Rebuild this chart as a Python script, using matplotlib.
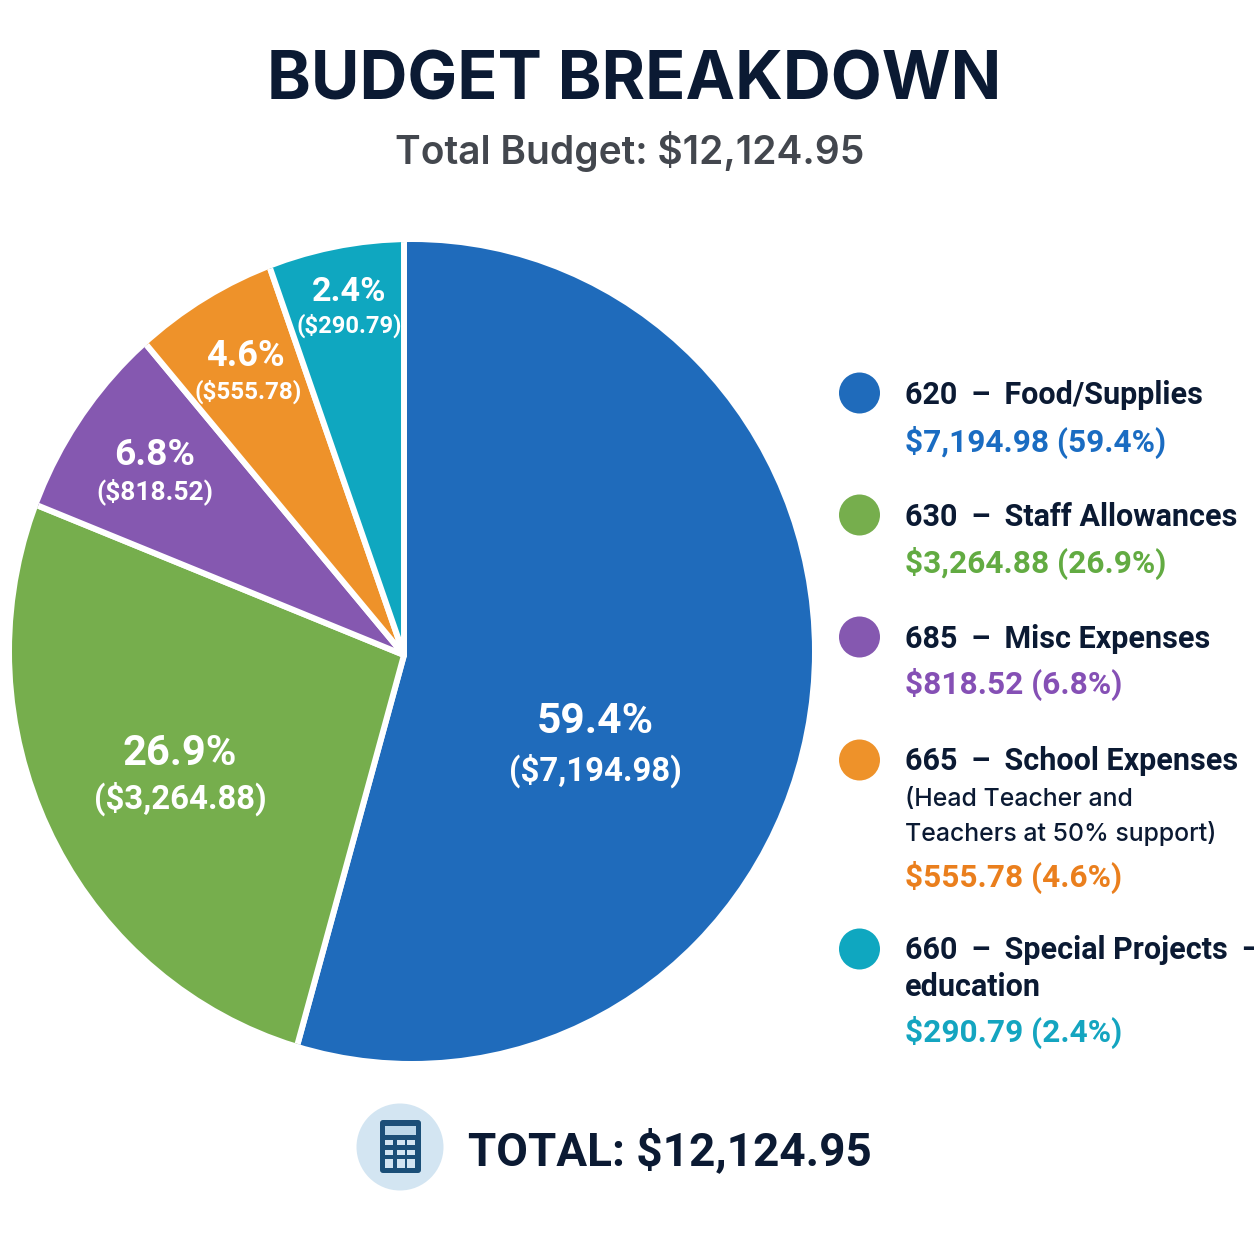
import matplotlib
matplotlib.use("Agg")
import matplotlib.pyplot as plt
from matplotlib.patches import Circle, Ellipse, FancyBboxPatch, Rectangle

# ---- data ----
categories = ["620 \u2009– \u2009Food/Supplies", "630 \u2009– \u2009Staff Allowances",
              "685 \u2009– \u2009Misc Expenses", "665 \u2009– \u2009School Expenses",
              "660 \u2009– \u2009Special Projects \u2009–"]
sublabels = [[], [], [], ["(Head Teacher and", "Teachers at 50% support)"], ["education"]]
amounts = [7194.98, 3264.88, 818.52, 555.78, 290.79]
percents = [59.4, 26.9, 6.8, 4.6, 2.4]
# the slices as actually drawn in the picture (degrees), which differ from the labelled shares
drawn_degrees = [195.3, 96.9, 28.1, 20.6, 19.1]
total = 12124.95

colors = ["#1f6bbb", "#76ae4d", "#8558b0", "#ee922a", "#0fa7c0"]
text_colors = ["#1a6cc2", "#62ab42", "#8550b5", "#ea7f1d", "#14a5c0"]
DARK = "#0b1a33"

W = 1254
plt.rcParams["font.family"] = ["Roboto", "DejaVu Sans"]
fig = plt.figure(figsize=(W / 100, W / 100), dpi=100, facecolor="white")
ax = fig.add_axes([0, 0, 1, 1])


def T(x, y, s, size, color=DARK, weight="bold", ha="left", family=None):
    kw = {"family": family} if family else {}
    return ax.text(x, W - y, s, fontsize=size, color=color, fontweight=weight,
                   ha=ha, va="baseline", **kw)


# ---- pie ----
apex = (404, W - 655)
wedges, _ = ax.pie(drawn_degrees, colors=colors, startangle=90, counterclock=False,
                   center=apex, radius=470,
                   wedgeprops=dict(edgecolor="white", linewidth=4.3, joinstyle="round"))
ax.set_xlim(0, W)
ax.set_ylim(0, W)
ax.set_aspect("equal")
ax.set_axis_off()
outline = Ellipse((412, W - 651.5), 800, 819, facecolor="none", edgecolor="none")
ax.add_patch(outline)
for w in wedges:
    w.set_clip_on(True)
    w.set_clip_path(outline)

# ---- titles ----
T(634, 99, "BUDGET BREAKDOWN", 47.8, ha="center", family="Inter")
T(629.5, 164, f"Total Budget: ${total:,.2f}", 28, color="#43474e", weight="semibold", ha="center", family="Inter")

# ---- slice labels ----
label_pos = [((595, 733), (595, 781)), ((180, 765), (180, 809)), ((155, 465), (155, 499)),
             ((245, 366), (248, 399)), ((349, 301), (349, 333))]
pct_sizes = [30.6, 30, 26.7, 26, 24.7]
amt_sizes = [23.7, 23.7, 19, 17.4, 17.1]
for a, p, (pp, ap), ps, az in zip(amounts, percents, label_pos, pct_sizes, amt_sizes):
    T(pp[0], pp[1], f"{p}%", ps, color="white", ha="center")
    T(ap[0], ap[1], f"(${a:,.2f})", az, color="white", ha="center")

# ---- legend ----
rows = [(393, 404, [], 452), (515, 526, [], 573), (637, 648, [], 694),
        (760, 770, [806, 841], 887), (949, 959, [996], 1042)]
for i, (cy, base, subs, amt_y) in enumerate(rows):
    ax.add_patch(Circle((859.5, W - cy), 20.5, facecolor=colors[i], edgecolor="none"))
    T(905, base, categories[i], 22)
    for sy, s in zip(subs, sublabels[i]):
        if s == "education":
            T(905, sy, s, 22)
        else:
            T(905, sy, s, 17.9, weight="medium", family="Inter")
    T(905, amt_y, f"${amounts[i]:,.2f} ({percents[i]}%)", 22.8, color=text_colors[i])

# ---- footer ----
ax.add_patch(Circle((400, W - 1147), 43.5, facecolor="#d3e5f2", edgecolor="none"))
ax.add_patch(FancyBboxPatch((380, W - 1173), 41, 53, boxstyle="round,pad=0,rounding_size=3",
                            facecolor="#1b4f78", edgecolor="none"))
ax.add_patch(Rectangle((384.5, W - 1135), 31, 9, facecolor="#bcd8ea", edgecolor="none"))
for by, h in ((1139.5, 5), (1149.5, 5), (1159, 9)):
    for bx in (385, 396.5, 407):
        ax.add_patch(Rectangle((bx, W - by - h), 8, h, facecolor="#d3e5f2", edgecolor="none"))
T(468, 1165.5, f"TOTAL: ${total:,.2f}", 33)

fig.savefig("out.png", dpi=100, facecolor="white")
